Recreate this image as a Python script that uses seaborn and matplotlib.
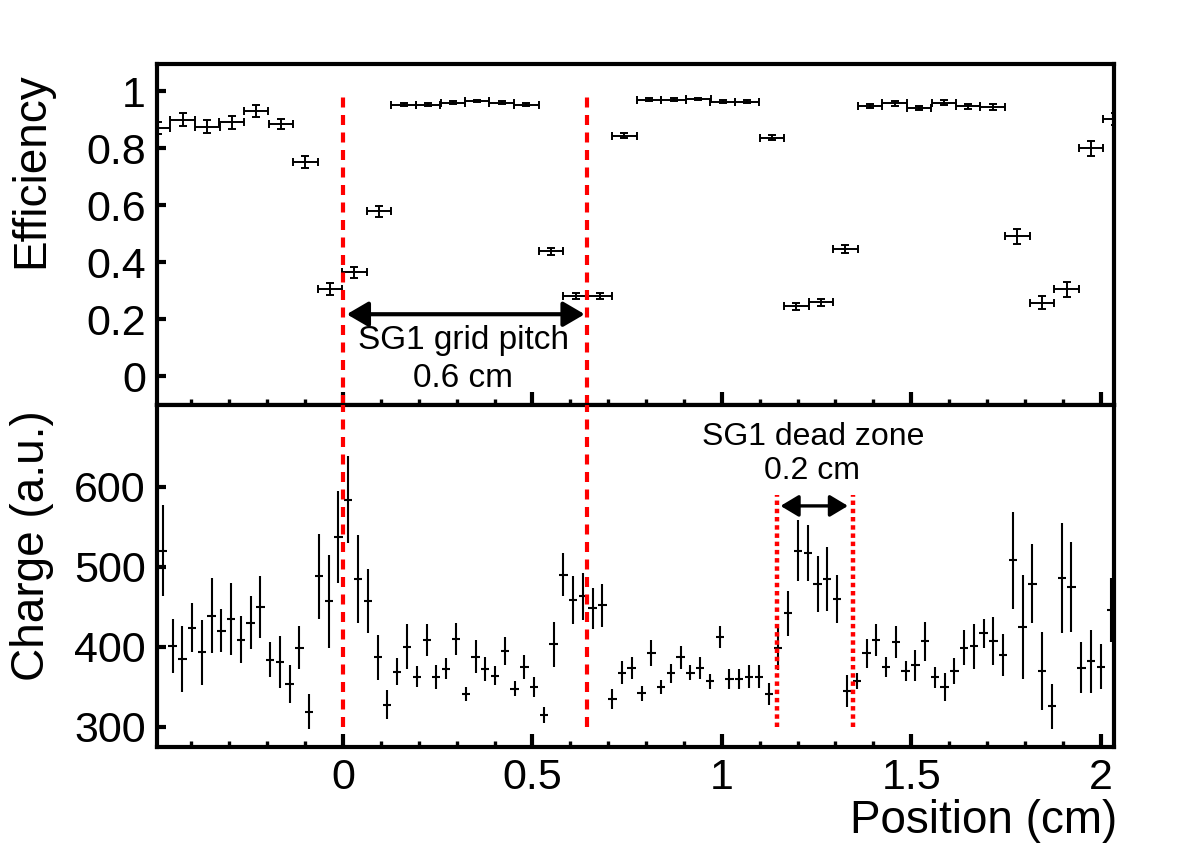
import numpy as np
import pandas as pd
import seaborn as sns
import matplotlib.pyplot as plt
from matplotlib.ticker import MultipleLocator, FixedLocator, FuncFormatter

# efficiency scan (coarse bins)
POS_EFF = [-0.488, -0.423, -0.358, -0.294, -0.229, -0.164, -0.099, -0.034,
           0.030, 0.095, 0.160, 0.225, 0.290, 0.354, 0.419, 0.484, 0.549,
           0.614, 0.678, 0.743, 0.808, 0.873, 0.938, 1.002, 1.067, 1.132,
           1.197, 1.262, 1.326, 1.391, 1.456, 1.521, 1.586, 1.650, 1.715,
           1.780, 1.845, 1.910, 1.974, 2.039]
EFF = [0.870, 0.899, 0.875, 0.890, 0.930, 0.885, 0.752, 0.306, 0.365, 0.579,
       0.952, 0.952, 0.959, 0.965, 0.959, 0.952, 0.438, 0.283, 0.281, 0.844,
       0.969, 0.969, 0.973, 0.963, 0.963, 0.837, 0.246, 0.260, 0.447, 0.948,
       0.957, 0.941, 0.959, 0.947, 0.945, 0.491, 0.259, 0.305, 0.799, 0.902]
EFF_ERR = [0.020, 0.023, 0.022, 0.022, 0.020, 0.018, 0.021, 0.021, 0.020, 0.020,
           0.006, 0.006, 0.005, 0.005, 0.005, 0.005, 0.013, 0.010, 0.010, 0.010,
           0.005, 0.005, 0.004, 0.005, 0.005, 0.010, 0.012, 0.013, 0.015, 0.008,
           0.008, 0.008, 0.008, 0.009, 0.010, 0.026, 0.024, 0.026, 0.026, 0.020]

# charge scan (fine bins)
POS_CHG = [-0.476, -0.450, -0.424, -0.399, -0.373, -0.347, -0.321, -0.295,
           -0.270, -0.244, -0.218, -0.192, -0.166, -0.141, -0.115, -0.089,
           -0.063, -0.037, -0.012, 0.014, 0.040, 0.066, 0.092, 0.117, 0.143,
           0.169, 0.195, 0.221, 0.246, 0.272, 0.298, 0.324, 0.350, 0.375,
           0.401, 0.427, 0.453, 0.479, 0.504, 0.530, 0.556, 0.582, 0.608,
           0.633, 0.659, 0.685, 0.711, 0.737, 0.762, 0.788, 0.814, 0.840,
           0.866, 0.891, 0.917, 0.943, 0.969, 0.995, 1.020, 1.046, 1.072,
           1.098, 1.124, 1.149, 1.175, 1.201, 1.227, 1.253, 1.278, 1.304,
           1.330, 1.356, 1.382, 1.407, 1.433, 1.459, 1.485, 1.511, 1.536,
           1.562, 1.588, 1.614, 1.640, 1.665, 1.691, 1.717, 1.743, 1.769,
           1.794, 1.820, 1.846, 1.872, 1.898, 1.923, 1.949, 1.975, 2.001, 2.027]
CHG = [520, 401, 385, 424, 393, 439, 420, 435, 409, 430,
       450, 384, 381, 354, 399, 319, 488, 457, 537, 584,
       485, 457, 387, 328, 369, 400, 363, 409, 362, 373,
       410, 341, 388, 372, 364, 395, 348, 375, 350, 315,
       403, 490, 459, 463, 448, 452, 335, 368, 374, 342,
       392, 350, 367, 387, 368, 374, 357, 412, 360, 360,
       363, 363, 341, 398, 442, 520, 517, 479, 485, 460,
       345, 358, 392, 409, 375, 406, 370, 377, 407, 362,
       350, 370, 399, 401, 417, 407, 390, 508, 425, 479,
       370, 326, 486, 475, 374, 382, 375, 446]
CHG_ERR = [57, 34, 41, 31, 40, 47, 27, 45, 29, 33,
           39, 22, 32, 24, 27, 22, 53, 58, 57, 54,
           55, 40, 28, 18, 17, 28, 13, 20, 15, 13,
           20, 9, 20, 15, 12, 17, 9, 15, 12, 10,
           28, 27, 30, 29, 26, 27, 12, 14, 14, 9,
           16, 9, 12, 14, 9, 14, 9, 14, 13, 12,
           14, 14, 14, 27, 28, 38, 35, 35, 40, 30,
           20, 10, 18, 20, 12, 20, 13, 19, 24, 13,
           18, 16, 22, 28, 18, 30, 26, 61, 65, 49,
           49, 28, 69, 56, 32, 39, 28, 40]
CHG_TICKS = [300, 400, 500, 600]

GRID_LINES = [0.0, 0.645]
DEAD_ZONE = [1.145, 1.345]
EFF_HALFBIN = 0.0324
CHG_HALFBIN = 0.011

dfEff = pd.DataFrame({'pos': POS_EFF, 'eff': EFF, 'err': EFF_ERR})
dfChg = pd.DataFrame({'pos': POS_CHG, 'chg': CHG, 'err': CHG_ERR})

sns.set_theme(style='ticks')
plt.rcParams['font.family'] = ['Liberation Sans', 'DejaVu Sans']
plt.rcParams.update({
    'axes.linewidth': 3,
    'xtick.major.width': 3, 'ytick.major.width': 3,
    'xtick.minor.width': 2.4,
    'xtick.labelsize': 31, 'ytick.labelsize': 31,
    'axes.labelsize': 33,
    'axes.edgecolor': 'black',
    'text.color': 'black', 'axes.labelcolor': 'black',
    'xtick.color': 'black', 'ytick.color': 'black',
})

fig = plt.figure(figsize=(11.82, 8.46), dpi=100)
axTop = fig.add_axes([0.1328, 0.5213, 0.8096, 0.4031])
axBot = fig.add_axes([0.1328, 0.1170, 0.8096, 0.4043], sharex=axTop)

# Efficiency -----------------------------------------------------------------
axTop.errorbar(dfEff['pos'], dfEff['eff'], yerr=dfEff['err'], xerr=EFF_HALFBIN,
               fmt='none', ecolor='black', elinewidth=1.4, capsize=2.6,
               capthick=1.4, zorder=2)
# Charge ---------------------------------------------------------------------
axBot.errorbar(dfChg['pos'], dfChg['chg'], yerr=dfChg['err'], xerr=CHG_HALFBIN,
               fmt='none', ecolor='black', elinewidth=1.5, capsize=0, zorder=2)

# red markers
for x in GRID_LINES:
    axTop.vlines(x, -0.1, 1.0, colors='#ff0000', linewidth=3,
                 linestyles=(0, (2.4, 1.8)), zorder=3)
    axBot.vlines(x, 300, 702, colors='#ff0000', linewidth=3,
                 linestyles=(0, (2.4, 1.8)), zorder=3)
for x in DEAD_ZONE:
    axBot.vlines(x, 300, 590, colors='#ff0000', linewidth=3.2,
                 linestyles=(0, (1, 0.85)), zorder=3)

# annotations
axTop.annotate('', xy=(GRID_LINES[0] + 0.01, 0.218), xytext=(GRID_LINES[1] - 0.007, 0.218),
               arrowprops=dict(arrowstyle='<|-|>,head_length=0.65,head_width=0.38',
                               mutation_scale=20, lw=3, color='black',
                               shrinkA=0, shrinkB=0))
axTop.text(0.318, 0.096, 'SG1 grid pitch', fontsize=24, ha='center', va='baseline')
axTop.text(0.318, -0.037, '0.6 cm', fontsize=24, ha='center', va='baseline')

axBot.annotate('', xy=(DEAD_ZONE[0] + 0.01, 576), xytext=(DEAD_ZONE[1] - 0.012, 576),
               arrowprops=dict(arrowstyle='<|-|>,head_length=0.55,head_width=0.33',
                               mutation_scale=20, lw=2.4, color='black',
                               shrinkA=0, shrinkB=0))
axBot.text(1.24, 652, 'SG1 dead zone', fontsize=23, ha='center', va='baseline')
axBot.text(1.237, 610, '0.2 cm', fontsize=23, ha='center', va='baseline')

# axes ------------------------------------------------------------------------
fmt = FuncFormatter(lambda v, p: '{:g}'.format(round(v, 3)))
axTop.set_xlim(-0.491, 2.035)
axTop.set_ylim(-0.1, 1.095)
axBot.set_ylim(275, 702)
axTop.xaxis.set_major_locator(MultipleLocator(0.5))
axTop.xaxis.set_minor_locator(MultipleLocator(0.1))
axTop.yaxis.set_major_locator(MultipleLocator(0.2))
axBot.yaxis.set_major_locator(FixedLocator(CHG_TICKS))
axTop.xaxis.set_major_formatter(fmt)
axTop.yaxis.set_major_formatter(fmt)
axBot.xaxis.set_major_formatter(fmt)
for ax in (axTop, axBot):
    ax.tick_params(axis='x', which='major', direction='in', length=9.5, top=False, pad=8)
    ax.tick_params(axis='x', which='minor', direction='in', length=4.5, top=False)
    ax.tick_params(axis='y', which='major', direction='in', length=6.5, right=False, pad=8)
    ax.tick_params(axis='y', which='minor', left=False, right=False)
    for s in ax.spines.values():
        s.set_visible(True)
        s.set_linewidth(3)
axTop.tick_params(axis='x', labelbottom=False)

axTop.set_ylabel('Efficiency', va='center')
axTop.yaxis.set_label_coords(-0.131, 0.69)
axBot.set_ylabel('Charge (a.u.)', va='center')
axBot.yaxis.set_label_coords(-0.131, 0.59)
axBot.set_xlabel('Position (cm)', ha='right', va='center')
axBot.xaxis.set_label_coords(1.003, -0.216)

fig.savefig('out.png', dpi=100)
